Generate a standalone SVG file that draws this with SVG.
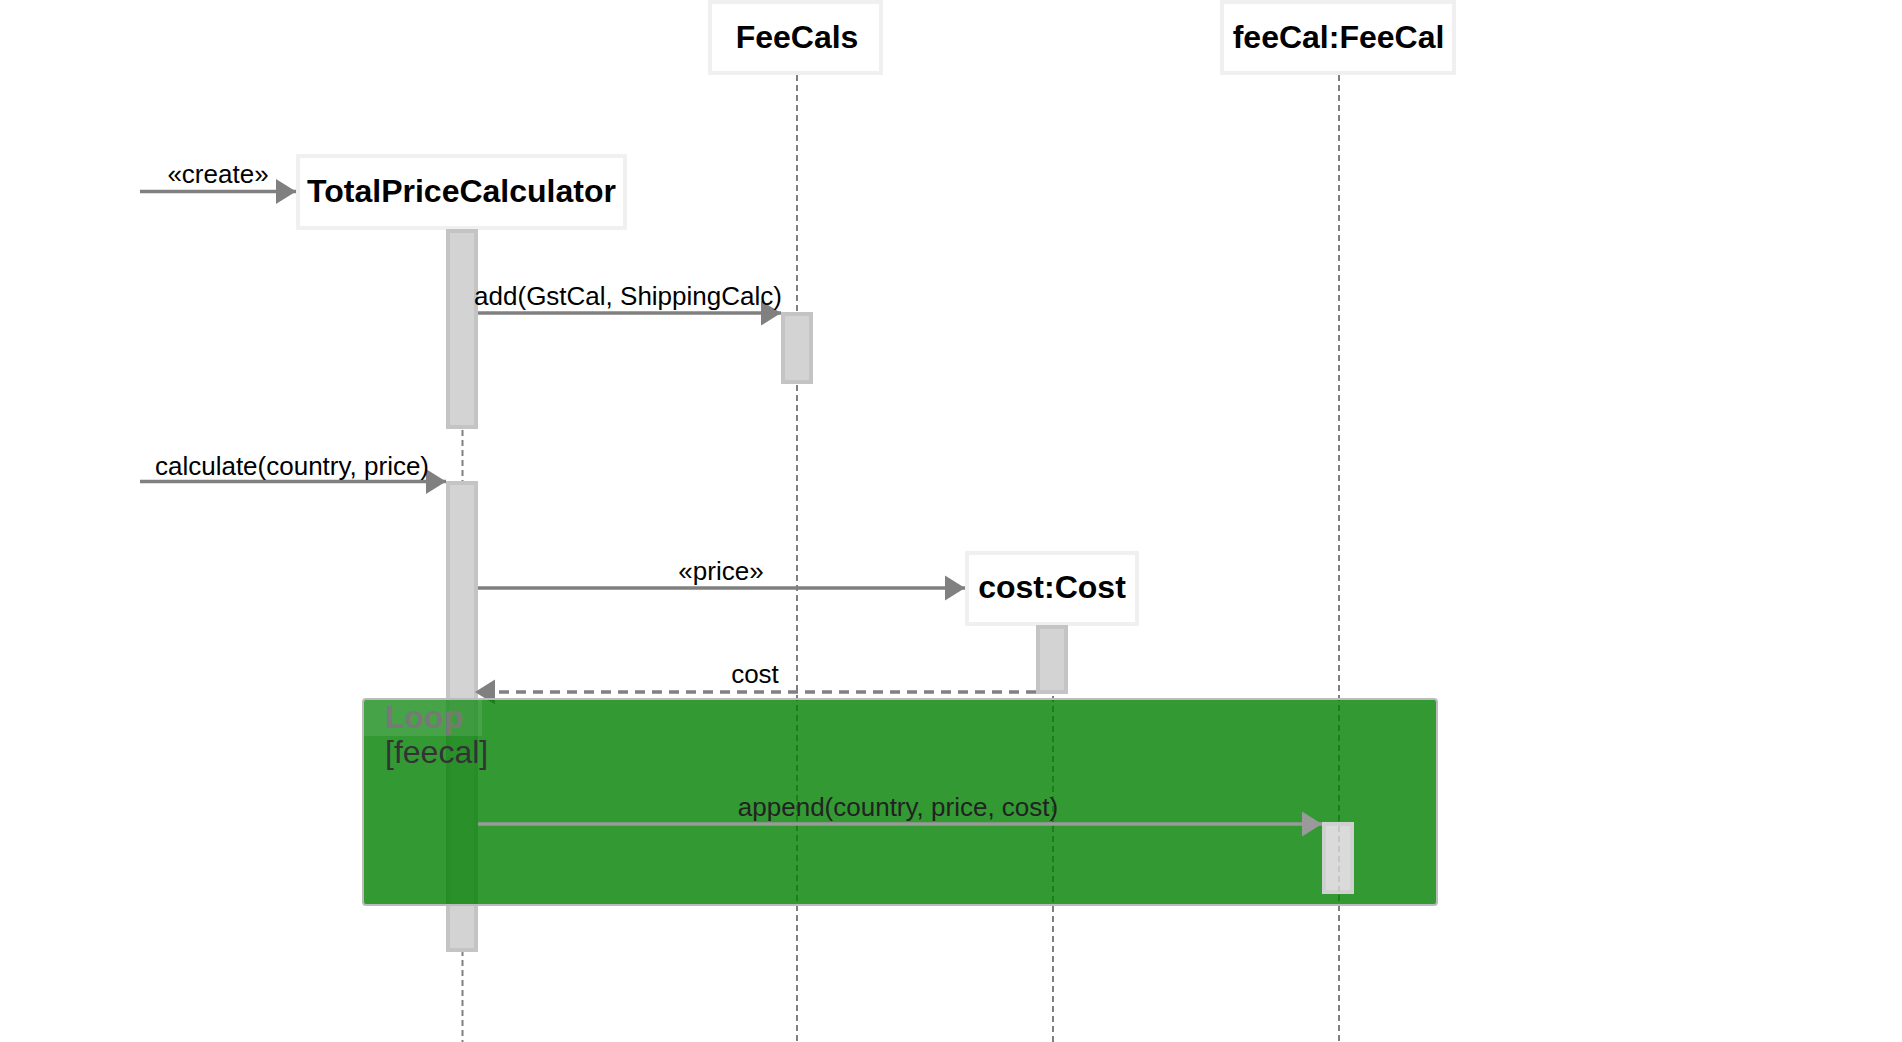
<svg xmlns="http://www.w3.org/2000/svg" width="1902" height="1042" viewBox="0 0 1902 1042">
  <defs>
    <marker id="arrow" markerUnits="userSpaceOnUse" markerWidth="20" markerHeight="26" refX="20" refY="13" orient="auto">
      <path d="M0,0.5 L20,13 L0,25.5 Z" fill="#808080"/>
    </marker>
    <marker id="arrowLight" markerUnits="userSpaceOnUse" markerWidth="20" markerHeight="26" refX="20" refY="13" orient="auto">
      <path d="M0,0.5 L20,13 L0,25.5 Z" fill="#9a9a9a"/>
    </marker>
  </defs>
  <style>
    .lifeline { stroke: #808080; stroke-width: 2; stroke-dasharray: 6 4; fill: none; }
    .head { fill: #ffffff; stroke: #f0f0f0; stroke-width: 4; }
    .title { font-family: "Liberation Sans", Arial, Helvetica, sans-serif; font-weight: bold; font-size: 32px; fill: #000000; text-anchor: middle; }
    .bar { fill: #d3d3d3; stroke: #c4c4c4; stroke-width: 4; }
    .msg { stroke: #808080; stroke-width: 3.5; fill: none; marker-end: url(#arrow); }
    .ret { stroke-dasharray: 10 7; }
    .label { font-family: "Liberation Sans", Arial, Helvetica, sans-serif; font-size: 26px; fill: #000000; text-anchor: middle; }
  </style>

  <g id="lifelines">
    <line class="lifeline" x1="462.5" y1="230" x2="462.5" y2="1042"/>
    <line class="lifeline" x1="797" y1="75" x2="797" y2="1042"/>
    <line class="lifeline" x1="1053" y1="626" x2="1053" y2="1042"/>
    <line class="lifeline" x1="1339" y1="75" x2="1339" y2="1042"/>
  </g>

  <g id="node-feecals">
    <rect class="head" x="710" y="2" width="171" height="71"/>
    <text class="title" x="797" y="48">FeeCals</text>
  </g>
  <g id="node-feecal">
    <rect class="head" x="1222" y="2" width="232" height="71"/>
    <text class="title" x="1338.5" y="48">feeCal:FeeCal</text>
  </g>
  <g id="node-totalpricecalculator">
    <rect class="head" x="298" y="156" width="327" height="72"/>
    <text class="title" x="461.5" y="202">TotalPriceCalculator</text>
  </g>
  <g id="node-cost">
    <rect class="head" x="967" y="553" width="170" height="71"/>
    <text class="title" x="1052" y="598">cost:Cost</text>
  </g>

  <g id="activations">
    <rect class="bar" x="448" y="231" width="28" height="196"/>
    <rect class="bar" x="783" y="314" width="28" height="68"/>
    <rect class="bar" x="448" y="483" width="28" height="467"/>
    <rect class="bar" x="1038" y="627" width="28" height="65"/>
  </g>

  <g id="connectors">
    <line class="msg" x1="140" y1="191.5" x2="296" y2="191.5"/>
    <text class="label" x="218" y="183">«create»</text>
    <line class="msg" x1="478" y1="313" x2="781" y2="313"/>
    <text class="label" x="628" y="305">add(GstCal, ShippingCalc)</text>
    <line class="msg" x1="140" y1="481.5" x2="446" y2="481.5"/>
    <text class="label" x="292" y="475">calculate(country, price)</text>
    <line class="msg" x1="478" y1="588" x2="965" y2="588"/>
    <text class="label" x="721" y="580">«price»</text>
    <line class="msg ret" x1="1036" y1="692" x2="475" y2="692"/>
    <text class="label" x="755" y="683">cost</text>
  </g>

  <g id="loop">
    <rect x="363" y="699" width="1074" height="206" rx="3" fill="#008000" fill-opacity="0.8" stroke="#bbbbbb" stroke-width="2"/>
    <rect x="364" y="700" width="118" height="36" fill="#ffffff" fill-opacity="0.1"/>
    <text x="385" y="728" font-family="Liberation Sans, Arial, Helvetica, sans-serif" font-weight="bold" font-size="32" fill="#787878">Loop</text>
    <text x="385" y="763" font-family="Liberation Sans, Arial, Helvetica, sans-serif" font-size="32" fill="#333333">[feecal]</text>
  </g>

  <g id="loop-message">
    <line x1="478" y1="824" x2="1322" y2="824" stroke="#9a9a9a" stroke-width="3.5" marker-end="url(#arrowLight)"/>
    <text class="label" x="898" y="816" style="fill:#222222">append(country, price, cost)</text>
  </g>

  <g id="activation-feecal">
    <rect x="1324" y="824" width="28" height="68" fill="#dadada" stroke="#d0d0d0" stroke-width="4"/>
    <line x1="1339" y1="826" x2="1339" y2="892" stroke="#c6c6c6" stroke-width="2" stroke-dasharray="6 4"/>
  </g>
</svg>
